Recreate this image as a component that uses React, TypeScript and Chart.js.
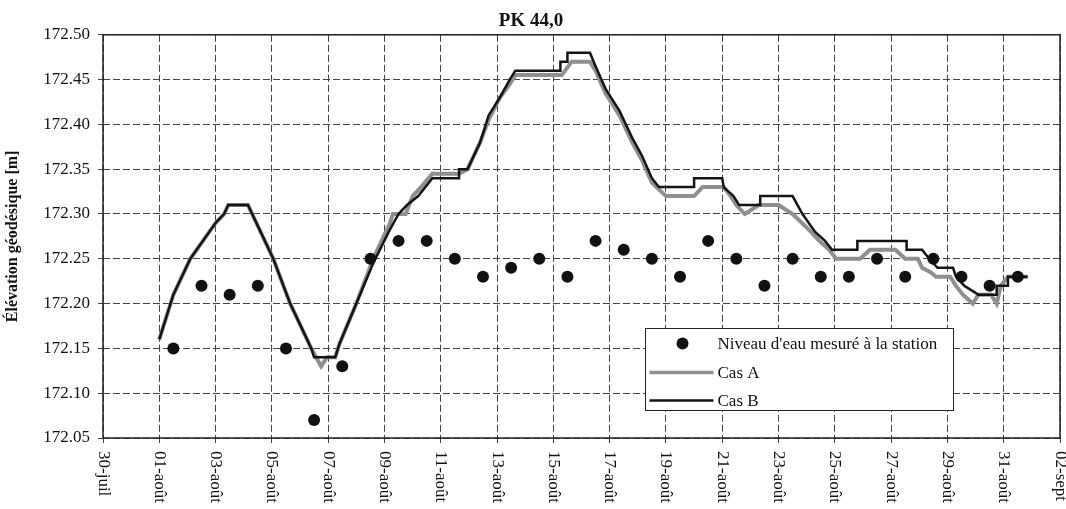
import React, { useEffect, useRef } from 'react';
import { Chart, registerables } from 'chart.js';

Chart.register(...registerables);

const FONT = "'Liberation Serif', 'Times New Roman', serif";

// x axis: days counted from 30 July
const xTickDays = [0, 2, 4, 6, 8, 10, 12, 14, 16, 18, 20, 22, 24, 26, 28, 30, 32, 34];
const xTickLabels = [
  '30-juil', '01-août', '03-août', '05-août', '07-août', '09-août', '11-août', '13-août', '15-août',
  '17-août', '19-août', '21-août', '23-août', '25-août', '27-août', '29-août', '31-août', '02-sept',
];

const seriesNames = ["Niveau d'eau mesuré à la station", 'Cas A', 'Cas B'];

// measured water level at the station (daily, noon)
const obsDays = [
  2.5, 3.5, 4.5, 5.5, 6.5, 7.5, 8.5, 9.5, 10.5, 11.5, 12.5, 13.5, 14.5, 15.5, 16.5, 17.5,
  18.5, 19.5, 20.5, 21.5, 22.5, 23.5, 24.5, 25.5, 26.5, 27.5, 28.5, 29.5, 30.5, 31.5, 32.5,
];
const obsValues = [
  172.15, 172.22, 172.21, 172.22, 172.15, 172.07, 172.13, 172.25, 172.27, 172.27, 172.25,
  172.23, 172.24, 172.25, 172.23, 172.27, 172.26, 172.25, 172.23, 172.27, 172.25, 172.22,
  172.25, 172.23, 172.23, 172.25, 172.23, 172.25, 172.23, 172.22, 172.23,
];

// Cas A: [day, elevation]
const casAPoints: [number, number][] = [
  [2.0, 172.16], [2.5, 172.21], [3.1, 172.25], [3.55, 172.27], [4.0, 172.29], [4.3, 172.30],
  [4.45, 172.31], [5.15, 172.31], [5.3, 172.30], [6.05, 172.25], [6.65, 172.20], [7.4, 172.15],
  [7.75, 172.13], [7.95, 172.14], [8.25, 172.14], [8.4, 172.155], [9.0, 172.20], [9.6, 172.25],
  [10.2, 172.29], [10.3, 172.30], [10.75, 172.30], [11.0, 172.32], [11.3, 172.33], [11.7, 172.345],
  [12.65, 172.345], [12.95, 172.35], [13.4, 172.38], [13.7, 172.405], [14.1, 172.43], [14.45, 172.445],
  [14.65, 172.455], [16.3, 172.455], [16.65, 172.47], [17.3, 172.47], [17.5, 172.46], [17.85, 172.435],
  [18.35, 172.41], [18.8, 172.38], [19.15, 172.36], [19.5, 172.335], [20.0, 172.32], [21.0, 172.32],
  [21.3, 172.33], [22.05, 172.33], [22.3, 172.32], [22.5, 172.31], [22.8, 172.30], [23.3, 172.31],
  [24.0, 172.31], [24.5, 172.30], [25.0, 172.285], [25.45, 172.27], [25.8, 172.26], [26.05, 172.25],
  [26.9, 172.25], [27.25, 172.26], [28.15, 172.26], [28.5, 172.25], [28.95, 172.25], [29.1, 172.24],
  [29.4, 172.235], [29.6, 172.23], [30.1, 172.23], [30.3, 172.22], [30.55, 172.21], [30.9, 172.20],
  [31.1, 172.21], [31.55, 172.21], [31.75, 172.20], [31.9, 172.22], [32.15, 172.23], [32.85, 172.23],
];

// Cas B: [day, elevation]
const casBPoints: [number, number][] = [
  [2.0, 172.16], [2.5, 172.21], [3.1, 172.25], [3.55, 172.27], [4.0, 172.29], [4.3, 172.30],
  [4.45, 172.31], [5.15, 172.31], [5.3, 172.30], [6.05, 172.25], [6.65, 172.20], [7.4, 172.15],
  [7.5, 172.14], [8.25, 172.14], [8.4, 172.155], [9.0, 172.20], [9.6, 172.245], [10.15, 172.28],
  [10.5, 172.30], [10.8, 172.31], [11.2, 172.32], [11.7, 172.34], [12.65, 172.34], [12.65, 172.35],
  [12.95, 172.35], [13.4, 172.38], [13.7, 172.41], [14.1, 172.43], [14.45, 172.45], [14.65, 172.46],
  [16.25, 172.46], [16.25, 172.47], [16.5, 172.47], [16.5, 172.48], [17.3, 172.48], [17.5, 172.465],
  [17.85, 172.44], [18.35, 172.415], [18.8, 172.385], [19.15, 172.365], [19.5, 172.34], [19.75, 172.33],
  [21.0, 172.33], [21.0, 172.34], [22.0, 172.34], [22.05, 172.33], [22.4, 172.32], [22.6, 172.31],
  [23.35, 172.31], [23.35, 172.32], [24.5, 172.32], [24.85, 172.30], [25.3, 172.28], [25.65, 172.27],
  [25.9, 172.26], [26.8, 172.26], [26.8, 172.27], [28.55, 172.27], [28.55, 172.26], [29.1, 172.26],
  [29.35, 172.25], [29.65, 172.24], [30.2, 172.24], [30.3, 172.23], [30.6, 172.22], [31.1, 172.21],
  [31.75, 172.21], [31.75, 172.22], [32.15, 172.22], [32.15, 172.23], [32.85, 172.23],
];

const Y_MIN = 172.05;
const Y_MAX = 172.5;
const Y_STEP = 0.05;

const COLOR_OBS = '#111111';
const COLOR_A = '#8f8f8f';
const COLOR_B = '#141414';
const GRID_COLOR = '#444444';

const decorPlugin = {
  id: 'decor',
  afterDatasetsDraw(chart: any) {
    const { ctx, chartArea: ca } = chart;
    ctx.save();
    // legend box inside plot area
    const bx = ca.right - 414.5;
    const by = ca.bottom - 109.5;
    const bw = 308;
    const bh = 82;
    ctx.setLineDash([]);
    ctx.fillStyle = '#ffffff';
    ctx.fillRect(bx, by, bw, bh);
    ctx.strokeStyle = '#222';
    ctx.lineWidth = 1;
    ctx.strokeRect(bx, by, bw, bh);

    const rows = [by + 15, by + 44, by + 72];
    const textX = bx + 72;
    ctx.font = `17px ${FONT}`;
    ctx.textBaseline = 'middle';
    ctx.textAlign = 'left';
    // marker
    ctx.beginPath();
    ctx.arc(bx + 37, rows[0], 6, 0, Math.PI * 2);
    ctx.fillStyle = COLOR_OBS;
    ctx.fill();
    // Cas A sample
    ctx.beginPath();
    ctx.moveTo(bx + 4, rows[1]);
    ctx.lineTo(bx + 68, rows[1]);
    ctx.strokeStyle = COLOR_A;
    ctx.lineWidth = 3.5;
    ctx.stroke();
    // Cas B sample
    ctx.beginPath();
    ctx.moveTo(bx + 4, rows[2]);
    ctx.lineTo(bx + 68, rows[2]);
    ctx.strokeStyle = COLOR_B;
    ctx.lineWidth = 2.5;
    ctx.stroke();

    ctx.fillStyle = '#111';
    seriesNames.forEach((name, i) => ctx.fillText(name, textX, rows[i] + 1));

    // plot frame
    ctx.strokeStyle = '#222';
    ctx.lineWidth = 1.5;
    ctx.strokeRect(ca.left, ca.top, ca.right - ca.left, ca.bottom - ca.top);
    ctx.restore();
  },
  afterDraw(chart: any) {
    const { ctx, chartArea: ca } = chart;
    const xs = chart.scales.x;
    ctx.save();
    ctx.font = `17px ${FONT}`;
    ctx.fillStyle = '#111';
    ctx.textAlign = 'left';
    ctx.textBaseline = 'middle';
    xTickDays.forEach((d, i) => {
      const px = xs.getPixelForValue(d);
      ctx.save();
      ctx.translate(px, ca.bottom + 13);
      ctx.rotate(Math.PI / 2);
      ctx.fillText(xTickLabels[i], 0, 0);
      ctx.restore();
    });
    ctx.restore();
  },
};

export default function App() {
  const canvasRef = useRef<HTMLCanvasElement | null>(null);

  useEffect(() => {
    const canvas = canvasRef.current;
    if (!canvas) return;
    const chart = new Chart(canvas, {
      type: 'line',
      data: {
        datasets: [
          {
            label: seriesNames[0],
            data: obsDays.map((d, i) => ({ x: d, y: obsValues[i] })),
            showLine: false,
            pointRadius: 6,
            pointStyle: 'circle',
            pointBackgroundColor: COLOR_OBS,
            pointBorderColor: COLOR_OBS,
            pointBorderWidth: 0,
            borderColor: COLOR_OBS,
            order: 0,
          },
          {
            label: seriesNames[2],
            data: casBPoints.map(([d, v]) => ({ x: d, y: v })),
            borderColor: COLOR_B,
            borderWidth: 2.5,
            pointRadius: 0,
            tension: 0,
            fill: false,
            order: 1,
          },
          {
            label: seriesNames[1],
            data: casAPoints.map(([d, v]) => ({ x: d, y: v })),
            borderColor: COLOR_A,
            borderWidth: 4,
            pointRadius: 0,
            tension: 0,
            fill: false,
            order: 2,
          },
        ],
      },
      options: {
        animation: false,
        responsive: true,
        maintainAspectRatio: false,
        layout: { padding: { left: 0, right: 4, top: 0, bottom: 0 } },
        plugins: {
          legend: { display: false },
          tooltip: { enabled: false },
          title: {
            display: true,
            text: 'PK 44,0',
            color: '#111',
            font: { family: FONT, size: 19, weight: 'bold' },
            padding: { top: 10, bottom: 2 },
          },
        },
        scales: {
          x: {
            type: 'linear',
            min: xTickDays[0],
            max: xTickDays[xTickDays.length - 1],
            ticks: { stepSize: 2, display: false },
            grid: { color: GRID_COLOR, lineWidth: 1, tickLength: 5, drawTicks: true },
            border: { display: false, dash: [7, 3] },
            afterFit: (s: any) => {
              s.height = 71;
            },
          },
          y: {
            type: 'linear',
            min: Y_MIN,
            max: Y_MAX,
            ticks: {
              stepSize: Y_STEP,
              color: '#111',
              padding: 8,
              font: { family: FONT, size: 17 },
              callback: (v: any) => Number(v).toFixed(2),
            },
            grid: { color: GRID_COLOR, lineWidth: 1, tickLength: 5, drawTicks: true },
            border: { display: false, dash: [7, 3] },
            title: {
              display: true,
              text: 'Élévation géodésique [m]',
              color: '#111',
              font: { family: FONT, size: 16, weight: 'bold' },
              padding: { top: 3, bottom: 0 },
            },
            afterFit: (s: any) => {
              s.width = 103;
            },
          },
        },
      },
      plugins: [decorPlugin],
    });
    return () => chart.destroy();
  }, []);

  return (
    <div style={{ position: 'absolute', left: 0, top: 0, width: 1066, height: 509, background: '#fff' }}>
      <canvas ref={canvasRef} />
    </div>
  );
}
